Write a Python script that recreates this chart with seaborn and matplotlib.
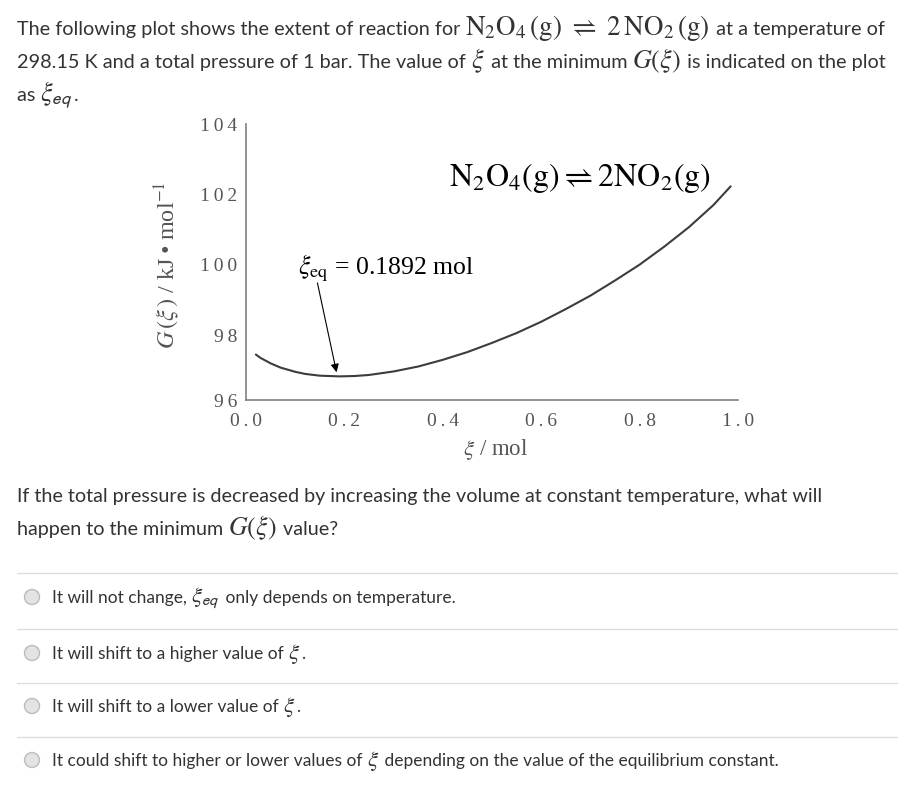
import matplotlib
matplotlib.use("Agg")
import matplotlib.pyplot as plt
import pandas as pd
import seaborn as sns
from matplotlib.patches import Circle

# curve: extent of reaction vs Gibbs energy
xi_mol = [0.02, 0.03, 0.05, 0.07, 0.10, 0.12, 0.15, 0.19, 0.22, 0.25, 0.30, 0.35,
          0.40, 0.45, 0.50, 0.55, 0.60, 0.65, 0.70, 0.75, 0.80, 0.85, 0.90, 0.95, 0.985]
g_kj = [97.46, 97.36, 97.21, 97.09, 96.97, 96.91, 96.86, 96.84, 96.85, 96.88, 96.98, 97.12,
        97.31, 97.53, 97.79, 98.07, 98.39, 98.75, 99.13, 99.56, 100.01, 100.52, 101.07,
        101.70, 102.23]

x_ticks = [0.0, 0.2, 0.4, 0.6, 0.8, 1.0]
y_ticks = [96.17, 98, 100, 102, 104]
y_tick_labels = ["96", "98", "100", "102", "104"]

xi_eq = 0.1892
eq_label = r"$\xi_{\rm eq}$ = 0.1892 mol"
reaction = r"$\mathrm{N_2O_4}\left(\mathrm{g}\right)\rightleftharpoons 2\mathrm{NO_2}\left(\mathrm{g}\right)$"

intro_lines = [
    [("The following plot shows the extent of reaction for ", "t"),
     (r"$\mathrm{N_2O_4\,(g)}\ \rightleftharpoons\ 2\,\mathrm{NO_2\,(g)}$", "c"),
     (" at a temperature of", "t")],
    [("298.15 K and a total pressure of 1 bar. The value of ", "t"),
     (r"$\xi$", "m"), (" at the minimum ", "t"), (r"$G(\xi)$", "m"),
     (" is indicated on the plot", "t")],
    [("as ", "t"), (r"$\xi_{\mathsf{eq}}$", "m"), (".", "t")],
]
question_lines = [
    [("If the total pressure is decreased by increasing the volume at constant temperature, what will", "t")],
    [("happen to the minimum ", "t"), (r"$G(\xi)$", "m"), (" value?", "t")],
]
options = [
    [("It will not change, ", "t"), (r"$\xi_{\mathsf{eq}}$", "m"), (" only depends on temperature.", "t")],
    [("It will shift to a higher value of ", "t"), (r"$\xi$", "m"), (".", "t")],
    [("It will shift to a lower value of ", "t"), (r"$\xi$", "m"), (".", "t")],
    [("It could shift to higher or lower values of ", "t"), (r"$\xi$", "m"),
     (" depending on the value of the equilibrium constant.", "t")],
]

sns.set_theme(style="white")
plt.rcParams["font.family"] = ["Liberation Serif", "DejaVu Serif"]
plt.rcParams["mathtext.fontset"] = "stix"

fig = plt.figure(figsize=(9.04, 8.05), dpi=100)
W, H = 904, 805

# pixel-space layer for the page text
ov = fig.add_axes([0, 0, 1, 1])
ov.set_xlim(0, W)
ov.set_ylim(H, 0)
ov.axis("off")
ov.patch.set_alpha(0)

renderer = fig.canvas.get_renderer()
TXT = dict(family=["Lato", "DejaVu Sans"], color="#333333")


def measure(s, size):
    t = ov.text(0, 0, "|" + s + "|", fontsize=size, **TXT)
    b = ov.text(0, 0, "|", fontsize=size, **TXT)
    w = t.get_window_extent(renderer).width - 2 * b.get_window_extent(renderer).width
    t.remove()
    b.remove()
    return w


def run_line(x, y, pieces, size):
    for s, kind in pieces:
        if kind == "t":
            ov.text(x, y, s, fontsize=size, va="baseline", ha="left", **TXT)
            x += measure(s, size)
        else:
            scale = 1.36 if kind == "c" else 1.32
            t = ov.text(x, y, s, fontsize=size * scale, va="baseline", ha="left",
                        color=TXT["color"])
            x += t.get_window_extent(renderer).width + 1
    return x


for i, line in enumerate(intro_lines):
    run_line(17, 35 + 33 * i, line, 14.3)

for i, line in enumerate(question_lines):
    run_line(17, 502 + 33 * i, line, 14.2)

for y in [573, 629, 683, 737]:
    ov.plot([17, 897], [y, y], color="#dddddd", lw=1)

for y, line in zip([603, 659, 712, 766], options):
    ov.add_patch(Circle((32, y - 6), 7.5, facecolor="#e3e3e3", edgecolor="#bcbcbc", lw=1))
    run_line(52, y, line, 12.5)

# the chart itself
ax = fig.add_axes([246 / W, 1 - 400 / H, 492 / W, 276 / H])
df = pd.DataFrame({"xi": xi_mol, "G": g_kj})
sns.lineplot(data=df, x="xi", y="G", ax=ax, color="#3c3c3c", lw=1.5)

ax.set_xlim(0, 1)
ax.set_ylim(96.17, 104)
spaced = lambda s: "\u2009".join(s)
ax.set_xticks(x_ticks)
ax.set_xticklabels([spaced(f"{v:.1f}") for v in x_ticks])
ax.set_yticks(y_ticks)
ax.set_yticklabels([spaced(s) for s in y_tick_labels])
ax.tick_params(direction="in", length=9.5, width=0.8, color="#aaaaaa",
               labelcolor="#555555", labelsize=14, pad=6.5)
ax.tick_params(axis="x", pad=9)
sns.despine(ax=ax)
for side in ["left", "bottom"]:
    ax.spines[side].set_color("#808080")
    ax.spines[side].set_linewidth(1.2)

ax.set_xlabel(r"$\xi$ / mol", fontsize=16.5, color="#555555")
ax.xaxis.label.set_va("center")
ax.xaxis.set_label_coords(0.508, -0.181)
ax.set_ylabel("$G\\,(\\xi\\,)$ / kJ\u2009\u2022\u2009mol$^{-1}$", fontsize=17.5, color="#555555")
ax.yaxis.label.set_va("center")
ax.yaxis.label.set_ha("center")
ax.yaxis.set_label_coords(-0.16, 0.49)

ax.text(0.106, 99.72, eq_label, fontsize=18.5, va="baseline", color="black")
ax.text(0.678, 102.47, reaction, fontsize=23, ha="center", va="center", color="black")
ax.annotate("", xy=(xi_eq - 0.004, 96.88), xytext=(0.144, 99.57),
            arrowprops=dict(arrowstyle="-|>", color="black", lw=0.8, mutation_scale=12))

fig.savefig("out.png", dpi=100)
